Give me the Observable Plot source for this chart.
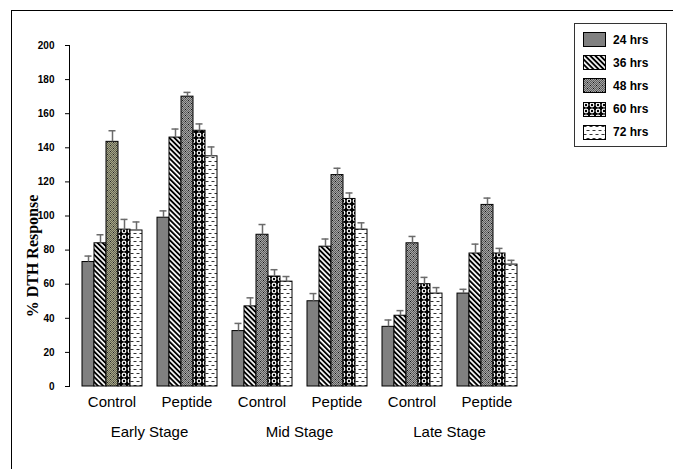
<!DOCTYPE html>
<html>
<head>
<meta charset="utf-8">
<script src="https://cdn.jsdelivr.net/npm/d3@7"></script>
<script src="https://cdn.jsdelivr.net/npm/@observablehq/plot@0.6"></script>
<style>
  body { margin: 0; background: #fff; }
  #wrap { position: relative; width: 673px; height: 469px; overflow: hidden;
          font-family: "Liberation Sans", Arial, sans-serif; }
  #border { position: absolute; left: 11px; top: 10px; right: -2px; bottom: -2px;
            border-top: 1px solid #000; border-left: 1px solid #000; }
  #chart { position: absolute; left: 0; top: 0; }
  #ytitle { position: absolute; left: 33px; top: 256px; white-space: nowrap;
            transform: translate(-50%, -50%) rotate(-90deg);
            font: bold 16px "Liberation Serif", "Times New Roman", serif; color: #000; }
  #legend { position: absolute; left: 574px; top: 23px; width: 93px; height: 124px;
            border: 1px solid #333; background: #fff; box-sizing: border-box; }
  #legend .sw { position: absolute; left: 8px; }
  #legend .lb { position: absolute; left: 38px; font: bold 12px "Liberation Sans", Arial, sans-serif;
                color: #000; line-height: 14px; }
  g[aria-label="y-axis tick label"] text { font-weight: bold; }
</style>
</head>
<body>
<div id="wrap">
  <div id="border"></div>
  <div id="chart"></div>
  <div id="ytitle">% DTH Response</div>
  <div id="legend"></div>
</div>
<script>
// Categories
const stages = ["Early Stage", "Mid Stage", "Late Stage"];
const treatments = ["Control", "Peptide"];
const series = ["24 hrs", "36 hrs", "48 hrs", "60 hrs", "72 hrs"];
const yTicks = [0, 20, 40, 60, 80, 100, 120, 140, 160, 180, 200];

// Mean % DTH response, ordered: Early Control, Early Peptide, Mid Control, Mid Peptide, Late Control, Late Peptide
const hrs24 = [73, 99, 32.5, 50, 35, 54.5];
const hrs36 = [84, 146, 47, 82, 41.5, 78];
const hrs48 = [143.5, 170, 89, 124, 84, 106.5];
const hrs60 = [92, 150, 64.5, 110, 60, 78];
const hrs72 = [91.5, 135, 61.5, 92, 54.5, 71.5];

// Upper error (SE), same order
const err24 = [3.5, 4, 4.5, 4.5, 4, 2.5];
const err36 = [5, 5, 5, 4.5, 3, 5.5];
const err48 = [6.5, 2.5, 6, 4, 4, 4];
const err60 = [6, 4, 4, 3.5, 4, 3];
const err72 = [5, 5.5, 3, 4, 3.5, 2.5];

const means = [hrs24, hrs36, hrs48, hrs60, hrs72];
const errors = [err24, err36, err48, err60, err72];

// One facet per stage/treatment pair
const groups = stages.flatMap(s => treatments.map(t => `${s} · ${t}`));
const rows = [];
series.forEach((s, m) => {
  means[m].forEach((v, k) => rows.push({group: groups[k], series: s, value: v, err: errors[m][k]}));
});

// Hatch pattern per time point; the early-stage control at 48 hrs is shaded olive
const patternIds = {"24 hrs": "p24", "36 hrs": "p36", "48 hrs": "p48", "60 hrs": "p60", "72 hrs": "p72"};
const fillOf = d => (d.group === groups[0] && d.series === "48 hrs")
  ? "url(#p48o)" : `url(#${patternIds[d.series]})`;

const chart = Plot.plot({
  width: 673,
  height: 469,
  marginLeft: 68,
  marginRight: 153.8,
  marginTop: 45,
  marginBottom: 83,
  style: {fontFamily: "'Liberation Sans', Arial, sans-serif", background: "transparent", color: "#000"},
  fx: {domain: groups, padding: 0, axis: null, label: null},
  x: {domain: series, padding: 0, insetLeft: 11, insetRight: 1, axis: null},
  y: {domain: [0, 200], axis: null},
  color: {type: "identity"},
  marks: [
    Plot.frame({anchor: "left", facetAnchor: "left", stroke: "#000"}),
    Plot.axisY({ticks: yTicks, tickSize: 4, tickPadding: 11, fontSize: 10, fontWeight: "bold", label: null}),
    Plot.barY(rows, {fx: "group", x: "series", y: "value", fill: fillOf, stroke: "#000", strokeWidth: 1}),
    Plot.ruleX(rows, {fx: "group", x: "series", y1: "value", y2: d => d.value + d.err,
                      stroke: "#6b6b6b", strokeWidth: 1.5}),
    Plot.tickY(rows, {fx: "group", x: "series", y: d => d.value + d.err,
                      stroke: "#6b6b6b", strokeWidth: 1.5, insetLeft: 2.5, insetRight: 2.5}),
    Plot.axisFx({anchor: "bottom", tickFormat: k => k.split(" · ")[1], tickSize: 0, tickPadding: 10,
                 fontSize: 15, dx: 5, label: null}),
    Plot.text(stages, {fx: (d, i) => groups[2 * i], text: d => d, frameAnchor: "bottom-right",
                       textAnchor: "middle", lineAnchor: "top", dy: 40, dx: 5, fontSize: 15})
  ]
});

// Fill patterns
const defs = d3.select(chart).insert("defs", ":first-child");
function pattern(id, w, h, transform) {
  const p = defs.append("pattern").attr("id", id).attr("patternUnits", "userSpaceOnUse")
    .attr("width", w).attr("height", h);
  if (transform) p.attr("patternTransform", transform);
  return p;
}
// 24 hrs: solid grey
pattern("p24", 4, 4).append("rect").attr("width", 4).attr("height", 4).attr("fill", "#808080");
// 36 hrs: heavy diagonal stripes
{
  const p = pattern("p36", 3.6, 3.6, "rotate(-45)");
  p.append("rect").attr("width", 3.6).attr("height", 3.6).attr("fill", "#fff");
  p.append("rect").attr("width", 1.9).attr("height", 3.6).attr("fill", "#000");
}
// 48 hrs: grey stipple with dark dots
function stipple(id, base, dark, dot) {
  const p = pattern(id, 6, 6);
  p.append("rect").attr("width", 6).attr("height", 6).attr("fill", base);
  for (let y = 0; y < 6; y++) for (let x = (y % 2); x < 6; x += 2) {
    p.append("rect").attr("x", x).attr("y", y).attr("width", 1).attr("height", 1).attr("fill", dark);
  }
  p.append("rect").attr("x", 1).attr("y", 1).attr("width", 1).attr("height", 1).attr("fill", dot);
  p.append("rect").attr("x", 4).attr("y", 4).attr("width", 1).attr("height", 1).attr("fill", dot);
}
stipple("p48", "#a4a4a4", "#5e5e5e", "#111");
stipple("p48o", "#a3a38a", "#66664f", "#222");
// 60 hrs: rings on black
{
  const p = pattern("p60", 6, 6);
  p.append("rect").attr("width", 6).attr("height", 6).attr("fill", "#000");
  p.append("circle").attr("cx", 3).attr("cy", 3).attr("r", 2.4).attr("fill", "#fff");
  p.append("circle").attr("cx", 3).attr("cy", 3).attr("r", 1.2).attr("fill", "#000");
}
// 72 hrs: staggered dashes on white
{
  const p = pattern("p72", 6, 8);
  p.append("rect").attr("width", 6).attr("height", 8).attr("fill", "#fff");
  p.append("rect").attr("x", 0.5).attr("y", 1).attr("width", 3).attr("height", 1).attr("fill", "#333");
  p.append("rect").attr("x", 3.5).attr("y", 5).attr("width", 3).attr("height", 1).attr("fill", "#333");
  p.append("rect").attr("x", -2.5).attr("y", 5).attr("width", 3).attr("height", 1).attr("fill", "#333");
}

document.getElementById("chart").append(chart);

// Legend
const legend = document.getElementById("legend");
series.forEach((s, i) => {
  const top = 8 + i * 23.2;
  const sw = document.createElementNS("http://www.w3.org/2000/svg", "svg");
  sw.setAttribute("class", "sw");
  sw.setAttribute("width", 23);
  sw.setAttribute("height", 15);
  sw.style.top = top + "px";
  const r = document.createElementNS("http://www.w3.org/2000/svg", "rect");
  r.setAttribute("x", 0.5); r.setAttribute("y", 0.5);
  r.setAttribute("width", 22); r.setAttribute("height", 14);
  r.setAttribute("fill", `url(#${patternIds[s]})`);
  r.setAttribute("stroke", "#000");
  sw.append(r);
  legend.append(sw);
  const lb = document.createElement("div");
  lb.className = "lb";
  lb.style.top = (top + 0.5) + "px";
  lb.textContent = s;
  legend.append(lb);
});
</script>
</body>
</html>
